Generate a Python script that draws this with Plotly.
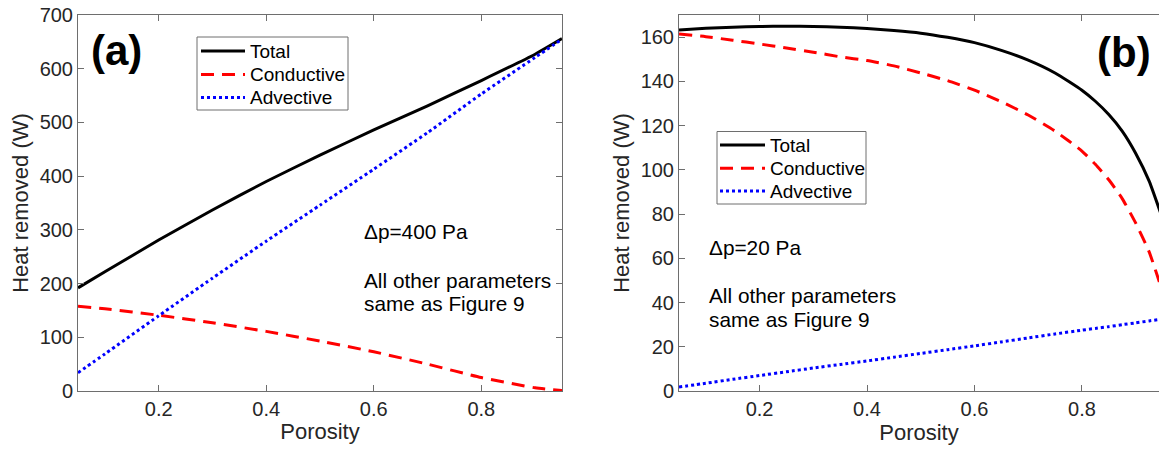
import plotly.graph_objects as go

# ---- data: panel (a), dp = 400 Pa ----
porosity_a = [0.05, 0.1, 0.2, 0.3, 0.4, 0.5, 0.6, 0.7, 0.8, 0.9, 0.95]
total_a = [192, 222, 281, 337, 390, 439, 486, 531, 578, 627, 656]
conductive_a = [158, 153, 141, 127, 111, 93, 73, 50, 25, 6, 1]
advective_a = [34, 69, 140, 210, 279, 346, 413, 481, 553, 621, 655]

# ---- data: panel (b), dp = 20 Pa ----
porosity_b = [0.05, 0.1, 0.15, 0.2, 0.25, 0.3, 0.35, 0.4, 0.45, 0.5, 0.55, 0.6,
              0.65, 0.7, 0.75, 0.8, 0.825, 0.85, 0.875, 0.9, 0.925, 0.95]
total_b = [163.2, 164.0, 164.5, 164.8, 164.9, 164.8, 164.5, 163.9, 163.0, 161.8, 159.9,
           157.5, 154.0, 149.6, 143.8, 136.0, 131.0, 125.0, 117.5, 107.5, 95.0, 78.0]
conductive_b = [161.4, 160.2, 158.6, 156.9, 155.1, 153.2, 151.1, 149.4, 147.0, 143.8, 140.3,
                136.0, 130.8, 124.8, 117.5, 108.5, 102.5, 95.5, 87.0, 76.0, 63.0, 45.0]
advective_b = [1.8, 3.5, 5.3, 7.0, 8.7, 10.4, 12.0, 13.6, 15.3, 17.0, 18.7, 20.4,
               22.2, 24.0, 25.8, 27.5, 28.3, 29.1, 30.0, 30.8, 31.7, 32.5]

x_ticks = [0.2, 0.4, 0.6, 0.8]
x_ticktext = ["0.2", "0.4", "0.6", "0.8"]
y_ticks_a = [0, 100, 200, 300, 400, 500, 600, 700]
y_ticks_b = [0, 20, 40, 60, 80, 100, 120, 140, 160]
series_names = ["Total", "Conductive", "Advective"]

W, H = 1159, 455
FONT = "Liberation Sans, Arial, sans-serif"
styles = [
    dict(color="black", width=3, dash="solid"),
    dict(color="#ff0000", width=3, dash="13px,8px"),
    dict(color="#0000ff", width=3, dash="3px,3px"),
]

fig = go.Figure()
for name, ys, st in zip(series_names, [total_a, conductive_a, advective_a], styles):
    fig.add_trace(go.Scatter(x=porosity_a, y=ys, name=name, mode="lines",
                             line=dict(shape="spline", smoothing=0.5, **st),
                             xaxis="x", yaxis="y", showlegend=False))
for name, ys, st in zip(series_names, [total_b, conductive_b, advective_b], styles):
    fig.add_trace(go.Scatter(x=porosity_b, y=ys, name=name, mode="lines",
                             line=dict(shape="spline", smoothing=0.5, **st),
                             xaxis="x2", yaxis="y2", showlegend=False))

def px_x(p):
    return p / W

def px_y(p):
    return 1 - p / H

axis_common = dict(showgrid=False, zeroline=False, showline=True, linecolor="#6e6e6e",
                   linewidth=1, ticks="inside", ticklen=6, tickcolor="#6e6e6e",
                   tickfont=dict(family=FONT, size=20, color="#262626"),
                   automargin=False)
title_font = dict(family=FONT, size=22, color="#262626")

ydom = [px_y(391), px_y(15)]
fig.update_layout(
    width=W, height=H,
    margin=dict(l=0, r=0, t=0, b=0),
    paper_bgcolor="white", plot_bgcolor="white",
    font=dict(family=FONT),
    showlegend=False,
    xaxis=dict(domain=[px_x(78), px_x(562)], range=[0.05, 0.95], tickvals=x_ticks,
               ticktext=x_ticktext, mirror="ticks", anchor="y",
               title=dict(text="Porosity", font=title_font, standoff=4), **axis_common),
    yaxis=dict(domain=ydom, range=[0, 700], tickvals=y_ticks_a, mirror="ticks", anchor="x",
               title=dict(text="Heat removed (W)", font=title_font, standoff=4), **axis_common),
    xaxis2=dict(domain=[px_x(679), 1.0], range=[0.05, 0.9435], tickvals=x_ticks,
                ticktext=x_ticktext, mirror="ticks", anchor="y2",
                title=dict(text="Porosity", font=title_font, standoff=4), **axis_common),
    yaxis2=dict(domain=ydom, range=[0, 170], tickvals=y_ticks_b, mirror=False, anchor="x2",
                title=dict(text="Heat removed (W)", font=title_font, standoff=4), **axis_common),
)

# ---- legends drawn as boxes + sample lines + real text ----
shapes = []
annotations = []
leg_font = dict(family=FONT, size=19, color="black")
ann_font = dict(family=FONT, size=20.8, color="black")

def add_legend(box, line_x, text_x, rows):
    x0, x1, y0, y1 = box
    shapes.append(dict(type="rect", xref="paper", yref="paper",
                       x0=px_x(x0), x1=px_x(x1), y0=px_y(y1), y1=px_y(y0),
                       line=dict(color="#6e6e6e", width=1), fillcolor="white", layer="above"))
    for name, st, ry in zip(series_names, styles, rows):
        shapes.append(dict(type="line", xref="paper", yref="paper",
                           x0=px_x(line_x[0]), x1=px_x(line_x[1]), y0=px_y(ry), y1=px_y(ry),
                           line=dict(color=st["color"], width=st["width"], dash=st["dash"]),
                           layer="above"))
        annotations.append(dict(text=name, x=px_x(text_x), y=px_y(ry), xanchor="left",
                                yanchor="middle", font=leg_font))

add_legend((197, 348, 37, 110), (201, 245), 247.5, (51, 74.5, 97.5))
add_legend((717, 866, 131.5, 204), (720, 765), 768, (145, 168.3, 191))

annotations += [
    dict(text="<b>(a)</b>", x=px_x(116), y=px_y(50), xanchor="center", yanchor="middle",
         font=dict(family=FONT, size=42, color="black")),
    dict(text="<b>(b)</b>", x=px_x(1124), y=px_y(52), xanchor="center", yanchor="middle",
         font=dict(family=FONT, size=42, color="black")),
    dict(text="Δp=400 Pa", x=px_x(362), y=px_y(231), xanchor="left", yanchor="middle", font=ann_font),
    dict(text="All other parameters", x=px_x(362), y=px_y(280), xanchor="left", yanchor="middle", font=ann_font),
    dict(text="same as Figure 9", x=px_x(362), y=px_y(303), xanchor="left", yanchor="middle", font=ann_font),
    dict(text="Δp=20 Pa", x=px_x(707), y=px_y(247.5), xanchor="left", yanchor="middle", font=ann_font),
    dict(text="All other parameters", x=px_x(707), y=px_y(295.5), xanchor="left", yanchor="middle", font=ann_font),
    dict(text="same as Figure 9", x=px_x(707), y=px_y(319), xanchor="left", yanchor="middle", font=ann_font),
]
for a in annotations:
    a.update(xref="paper", yref="paper", showarrow=False)
fig.update_layout(annotations=annotations, shapes=shapes)

fig.write_html("out.html")
